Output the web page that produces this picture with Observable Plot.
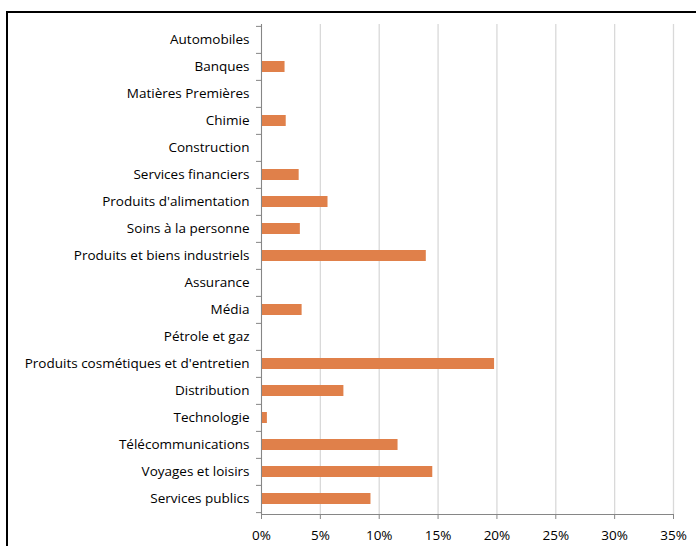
<!DOCTYPE html>
<html>
<head>
<meta charset="utf-8">
<script src="https://cdn.jsdelivr.net/npm/d3@7"></script>
<script src="https://cdn.jsdelivr.net/npm/@observablehq/plot@0.6"></script>
<style>
  html, body { margin: 0; padding: 0; background: #fff; }
  #wrap { position: relative; width: 696px; height: 546px; overflow: hidden; }
  #frame { position: absolute; left: 6px; top: 11px; width: 720px; height: 600px;
           border-left: 2px solid #000; border-top: 2px solid #000; pointer-events: none; }
  #chart { position: absolute; left: 0; top: 0; }
</style>
</head>
<body>
<div id="wrap"><div id="chart"></div><div id="frame"></div></div>
<script>
const categories = [
  "Automobiles", "Banques", "Matières Premières", "Chimie", "Construction",
  "Services financiers", "Produits d'alimentation", "Soins à la personne",
  "Produits et biens industriels", "Assurance", "Média", "Pétrole et gaz",
  "Produits cosmétiques et d'entretien", "Distribution", "Technologie",
  "Télécommunications", "Voyages et loisirs", "Services publics"
];
const values = [0, 2.0, 0, 2.1, 0, 3.2, 5.65, 3.3, 14.0, 0, 3.45, 0, 19.8, 7.0, 0.5, 11.6, 14.55, 9.3];
const xTicks = [0, 5, 10, 15, 20, 25, 30, 35];

const data = categories.map((c, i) => ({category: c, value: values[i] / 100}));

const W = 696, H = 546;
const mTop = 24, mBottom = 32, mLeft = 261, mRight = 23;
const step = (H - mTop - mBottom) / categories.length;
const font = "Open Sans, Noto Sans, sans-serif";

const chart = Plot.plot({
  width: W, height: H,
  marginTop: mTop, marginBottom: mBottom, marginLeft: mLeft, marginRight: mRight,
  style: {fontFamily: font, fontSize: "13.5px", color: "#000", background: "transparent"},
  x: {domain: [0, 0.35], label: null},
  y: {domain: categories, paddingInner: 0.6, paddingOuter: 0.3, label: null},
  marks: [
    Plot.gridX(xTicks.map(t => t / 100), {stroke: "#d9d9d9", strokeOpacity: 1, strokeWidth: 1.3}),
    Plot.barX(data, {x: "value", y: "category", fill: "#E0804A"}),
    Plot.axisX(xTicks.map(t => t / 100), {tickFormat: d => Math.round(d * 100) + "%", tickSize: 5, stroke: "#868686", tickPadding: 11, fontSize: 13.5, fill: "#000", label: null}),
    Plot.frame({anchor: "bottom", stroke: "#868686"}),
    Plot.axisY({tickSize: 0, tickPadding: 12, fontSize: 13.5, fill: "#000", label: null}),
    Plot.axisY({tickSize: 5, text: null, stroke: "#868686", dy: -step / 2, label: null}),
    Plot.axisY([categories[categories.length - 1]], {tickSize: 5, text: null, stroke: "#868686", dy: step / 2, label: null}),
    Plot.frame({anchor: "left", stroke: "#868686"})
  ]
});
document.getElementById("chart").appendChild(chart);
</script>
</body>
</html>
